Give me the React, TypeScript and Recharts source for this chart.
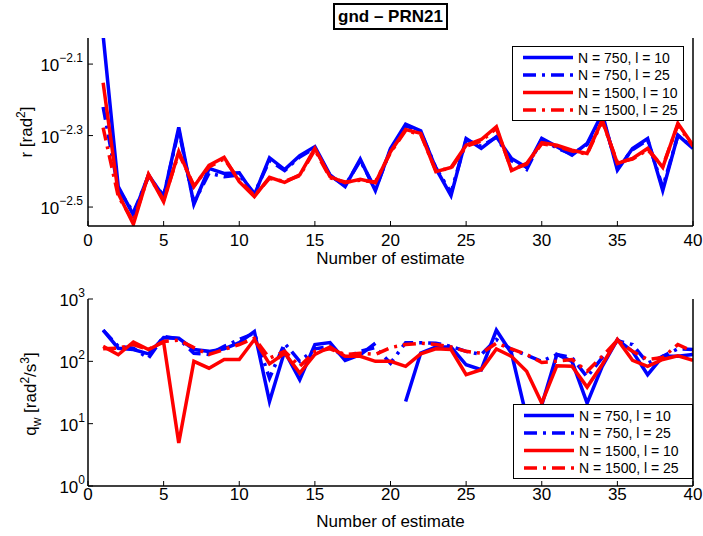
import { Line, LineChart, XAxis, YAxis } from "recharts"

const FONT = "'Liberation Sans', Arial, Helvetica, sans-serif"
const BLUE = "#0000ff"
const RED = "#ff0000"
const DASH_DOT = "13 6 3 6"

// estimate index (x axis)
const estimates = [
  1, 2, 3, 4, 5, 6, 7, 8, 9, 10, 11, 12, 13, 14, 15, 16, 17, 18, 19, 20,
  21, 22, 23, 24, 25, 26, 27, 28, 29, 30, 31, 32, 33, 34, 35, 36, 37, 38, 39, 40,
]
const xTicks = [0, 5, 10, 15, 20, 25, 30, 35, 40]

// r [rad^2], read as log10 values
const rN750L10 = [
  -2.02, -2.443, -2.522, -2.41, -2.471, -2.277, -2.492, -2.392, -2.406, -2.404,
  -2.466, -2.362, -2.395, -2.356, -2.331, -2.41, -2.443, -2.366, -2.454, -2.336,
  -2.268, -2.287, -2.392, -2.468, -2.308, -2.336, -2.303, -2.364, -2.389, -2.308,
  -2.331, -2.355, -2.322, -2.238, -2.397, -2.336, -2.308, -2.454, -2.299, -2.336,
]
const rN750L25 = [
  -2.22, -2.45, -2.515, -2.415, -2.468, -2.285, -2.488, -2.405, -2.415, -2.41,
  -2.462, -2.37, -2.398, -2.36, -2.335, -2.412, -2.44, -2.37, -2.45, -2.34,
  -2.272, -2.29, -2.39, -2.46, -2.312, -2.33, -2.305, -2.37, -2.395, -2.31,
  -2.335, -2.352, -2.325, -2.245, -2.39, -2.34, -2.312, -2.445, -2.3, -2.333,
]
const rN1500L10 = [
  -2.152, -2.462, -2.548, -2.408, -2.485, -2.345, -2.443, -2.383, -2.361, -2.429,
  -2.471, -2.417, -2.431, -2.41, -2.336, -2.415, -2.432, -2.422, -2.432, -2.345,
  -2.283, -2.294, -2.401, -2.389, -2.327, -2.311, -2.275, -2.398, -2.378, -2.32,
  -2.327, -2.341, -2.35, -2.257, -2.378, -2.364, -2.336, -2.389, -2.266, -2.327,
]
const rN1500L25 = [
  -2.278, -2.47, -2.54, -2.41, -2.48, -2.35, -2.44, -2.388, -2.365, -2.425,
  -2.468, -2.42, -2.428, -2.412, -2.34, -2.418, -2.43, -2.425, -2.43, -2.348,
  -2.286, -2.297, -2.398, -2.392, -2.33, -2.315, -2.28, -2.395, -2.38, -2.323,
  -2.33, -2.343, -2.352, -2.26, -2.375, -2.366, -2.34, -2.386, -2.27, -2.33,
]
const rExpTicks = [-2.5, -2.3, -2.1]
const rExpDomain = [-2.553, -2.027]

// q_w [rad^2/s^3], read as log10 values (null = no estimate)
const qN750L10 = [
  2.5, 2.21, 2.19, 2.12, 2.38, 2.37, 2.19, 2.16, 2.2, 2.3,
  2.48, 1.356, 2.16, 1.705, 2.27, 2.3, 2.015, 2.105, 2.29, null,
  1.356, 2.133, 2.23, 2.23, 1.945, 1.865, 2.5, 2.13, 1.1, 1.3,
  2.11, 2.0, 1.33, 1.92, 2.35, 2.16, 1.785, 2.08, 2.08, 2.11,
]
const qN750L25 = [
  2.5, 2.24, 2.21, 2.05, 2.4, 2.36, 2.13, 2.11, 2.24, 2.35,
  2.45, 1.73, 2.29, 2.0, 2.2, 2.24, 2.06, 2.16, 2.22, 1.97,
  2.3, 2.3, 2.29, 2.24, 2.16, 2.11, 2.35, 2.19, 2.1, 2.0,
  2.11, 2.06, 1.75, 2.06, 2.33, 2.27, 1.97, 2.08, 2.2, 2.19,
]
const qN1500L10 = [
  2.24, 2.106, 2.31, 2.19, 2.31, 0.69, 2.0, 1.89, 2.03, 2.03,
  2.35, 1.96, 2.13, 1.81, 2.11, 2.23, 2.08, 2.08, 2.0, 2.0,
  1.92, 2.12, 2.2, 2.19, 1.785, 1.865, 2.2, 2.08, 1.84, 1.33,
  1.93, 1.92, 1.587, 1.95, 2.35, 2.015, 1.92, 2.03, 2.09, 2.015,
]
const qN1500L25 = [
  2.2, 2.21, 2.27, 2.19, 2.32, 2.34, 2.22, 2.11, 2.19, 2.27,
  2.37, 2.05, 2.16, 1.92, 2.16, 2.2, 2.11, 2.13, 2.11, 2.22,
  2.27, 2.29, 2.27, 2.23, 2.16, 2.13, 2.29, 2.2, 2.11, 1.98,
  2.0, 2.03, 1.84, 2.08, 2.34, 2.16, 2.03, 2.06, 2.27, 2.16,
]
const qMajorTicks = [1, 10, 100, 1000]
const qMinorTicks = [2, 3, 4, 5, 6, 7, 8, 9, 20, 30, 40, 50, 60, 70, 80, 90, 200, 300, 400, 500, 600, 700, 800, 900]

const seriesNames = ["N = 750, l = 10", "N = 750, l = 25", "N = 1500, l = 10", "N = 1500, l = 25"]
const seriesColors = [BLUE, BLUE, RED, RED]
const seriesDash = [undefined, DASH_DOT, undefined, DASH_DOT]
const seriesKeys = ["a", "b", "c", "d"]

const pow = (v: number | null) => (v === null ? null : Math.pow(10, v))

function buildRows(a: (number | null)[], b: (number | null)[], c: (number | null)[], d: (number | null)[]) {
  return estimates.map((x, i) => ({ x, a: pow(a[i]), b: pow(b[i]), c: pow(c[i]), d: pow(d[i]) }))
}

const rRows = buildRows(rN750L10, rN750L25, rN1500L10, rN1500L25)
const qRows = buildRows(qN750L10, qN750L25, qN1500L10, qN1500L25)

function PowTick(props: any) {
  const { x, y, payload } = props
  const exp = Math.round(Math.log10(payload.value) * 10) / 10
  const txt = exp < 0 ? `\u2212${Math.abs(exp)}` : `${exp}`
  return (
    <text x={x} y={y + 7} textAnchor="end" fontSize={17} fill="#000" fontFamily={FONT}>
      10
      <tspan dy={-9} fontSize={12}>
        {txt}
      </tspan>
    </text>
  )
}

function YTitle({ cx, cy, kind }: { cx: number; cy: number; kind: "r" | "q" }) {
  return (
    <text transform={`translate(${cx},${cy}) rotate(-90)`} textAnchor="middle" fontSize={17} fill="#000" fontFamily={FONT}>
      {kind === "r" ? (
        <>
          r [rad<tspan dy={-7} fontSize={12}>2</tspan>
          <tspan dy={7}>]</tspan>
        </>
      ) : (
        <>
          q<tspan dy={5} fontSize={12}>w</tspan>
          <tspan dy={-5}> [rad</tspan>
          <tspan dy={-7} fontSize={12}>2</tspan>
          <tspan dy={7}>/s</tspan>
          <tspan dy={-7} fontSize={12}>3</tspan>
          <tspan dy={7}>]</tspan>
        </>
      )}
    </text>
  )
}

function LegendBox({ left, top, width }: { left: number; top: number; width: number }) {
  return (
    <svg style={{ position: "absolute", left, top }} width={width} height={75}>
      <rect x={0.5} y={0.5} width={width - 1} height={74} fill="#fff" stroke="#000" strokeWidth={1} />
      {seriesNames.map((name, i) => {
        const cy = 11.5 + i * 17.5
        return (
          <g key={name}>
            <line x1={11} x2={61} y1={cy} y2={cy} stroke={seriesColors[i]} strokeWidth={3.5} strokeDasharray={seriesDash[i]} />
            <text x={66} y={cy + 5} fontSize={14} fill="#000" fontFamily={FONT}>
              {name}
            </text>
          </g>
        )
      })}
    </svg>
  )
}

const axisLine = { stroke: "#000", strokeWidth: 1.5 }
const tickLine = { stroke: "#000", strokeWidth: 1 }
const xTick = { fill: "#000", fontSize: 17, fontFamily: FONT }

function Series() {
  return seriesKeys.map((k, i) => (
    <Line
      key={k}
      xAxisId="bx"
      yAxisId="ly"
      dataKey={k}
      stroke={seriesColors[i]}
      strokeWidth={3.5}
      strokeDasharray={seriesDash[i]}
      dot={false}
      activeDot={false}
      isAnimationActive={false}
    />
  ))
}

export default function App() {
  const rDomain = rExpDomain.map((e) => Math.pow(10, e))
  const rTicks = rExpTicks.map((e) => Math.pow(10, e))
  return (
    <div style={{ position: "absolute", left: 0, top: 0, width: 703, height: 536, background: "#fff", fontFamily: FONT }}>
      <div style={{ position: "absolute", left: 0, top: 0 }}>
        <LineChart width={703} height={270} data={rRows} margin={{ top: 38, right: 0, bottom: 0, left: 0 }}>
          <XAxis
            xAxisId="bx"
            type="number"
            dataKey="x"
            domain={[0, 40]}
            ticks={xTicks}
            interval={0}
            allowDataOverflow
            height={44}
            tickSize={-5}
            tickMargin={13}
            axisLine={axisLine}
            tickLine={tickLine}
            tick={xTick}
            label={{ value: "Number of estimate", position: "insideBottom", offset: 6, fill: "#000", fontSize: 17, fontFamily: FONT }}
          />
          <XAxis xAxisId="tx" orientation="top" type="number" dataKey="x" domain={[0, 40]} ticks={xTicks} interval={0} allowDataOverflow height={0} tickSize={-5} axisLine={axisLine} tickLine={tickLine} tick={false} />
          <YAxis
            yAxisId="ly"
            type="number"
            scale="log"
            domain={rDomain}
            ticks={rTicks}
            interval={0}
            allowDataOverflow
            width={88}
            tickSize={-5}
            tickMargin={10}
            axisLine={axisLine}
            tickLine={tickLine}
            tick={<PowTick />}
            label={<YTitle cx={32} cy={132} kind="r" />}
          />
          <YAxis yAxisId="ry" orientation="right" type="number" scale="log" domain={rDomain} ticks={rTicks} interval={0} allowDataOverflow width={10} tickSize={-5} axisLine={axisLine} tickLine={tickLine} tick={false} />
          {Series()}
        </LineChart>
      </div>
      <div style={{ position: "absolute", left: 0, top: 270 }}>
        <LineChart width={703} height={266} data={qRows} margin={{ top: 29, right: 0, bottom: 0, left: 0 }}>
          <XAxis
            xAxisId="bx"
            type="number"
            dataKey="x"
            domain={[0, 40]}
            ticks={xTicks}
            interval={0}
            allowDataOverflow
            height={50}
            tickSize={-5}
            tickMargin={7}
            axisLine={axisLine}
            tickLine={tickLine}
            tick={xTick}
            label={{ value: "Number of estimate", position: "insideBottom", offset: 9, fill: "#000", fontSize: 17, fontFamily: FONT }}
          />
          <XAxis xAxisId="tx" orientation="top" type="number" dataKey="x" domain={[0, 40]} ticks={xTicks} interval={0} allowDataOverflow height={0} tickSize={-5} axisLine={axisLine} tickLine={tickLine} tick={false} />
          <YAxis yAxisId="lm" type="number" scale="log" domain={[1, 1000]} ticks={qMinorTicks} interval={0} allowDataOverflow width={0} tickSize={-3} axisLine={false} tickLine={tickLine} tick={false} />
          <YAxis
            yAxisId="ly"
            type="number"
            scale="log"
            domain={[1, 1000]}
            ticks={qMajorTicks}
            interval={0}
            allowDataOverflow
            width={88}
            tickSize={-5}
            tickMargin={8}
            axisLine={axisLine}
            tickLine={tickLine}
            tick={<PowTick />}
            label={<YTitle cx={36} cy={124} kind="q" />}
          />
          <YAxis yAxisId="rm" orientation="right" type="number" scale="log" domain={[1, 1000]} ticks={qMinorTicks} interval={0} allowDataOverflow width={0} tickSize={-3} axisLine={false} tickLine={tickLine} tick={false} />
          <YAxis yAxisId="ry" orientation="right" type="number" scale="log" domain={[1, 1000]} ticks={qMajorTicks} interval={0} allowDataOverflow width={10} tickSize={-5} axisLine={axisLine} tickLine={tickLine} tick={false} />
          {Series()}
        </LineChart>
      </div>
      <LegendBox left={512} top={46} width={172} />
      <LegendBox left={513} top={404} width={180} />
      <div
        style={{
          position: "absolute",
          left: 333,
          top: 3,
          width: 115,
          height: 27,
          boxSizing: "border-box",
          border: "2px solid #000",
          background: "#fff",
          textAlign: "center",
          fontWeight: "bold",
          fontSize: 17,
          lineHeight: "23px",
          color: "#000",
        }}
      >
        gnd – PRN21
      </div>
    </div>
  )
}
